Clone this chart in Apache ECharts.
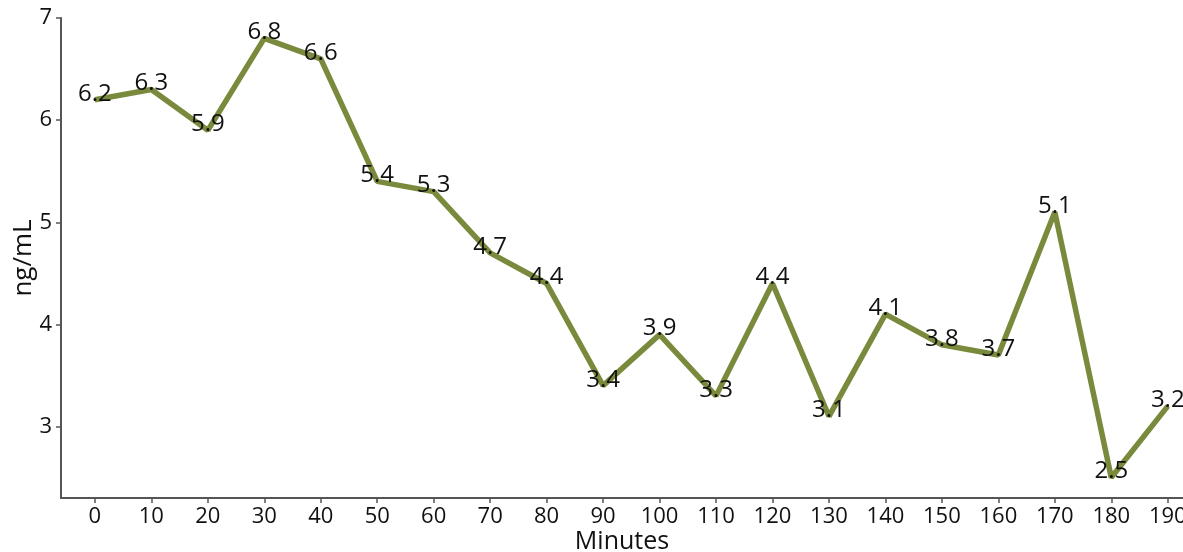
<!DOCTYPE html>
<html><head><meta charset="utf-8">
<script src="https://cdn.jsdelivr.net/npm/echarts@6/dist/echarts.min.js"></script>
<style>html,body{margin:0;padding:0;background:#fff}#c{width:1183px;height:552px}</style>
</head><body><div id="c"></div>
<script>
const minutes = [0,10,20,30,40,50,60,70,80,90,100,110,120,130,140,150,160,170,180,190];
const values = [6.2,6.3,5.9,6.8,6.6,5.4,5.3,4.7,4.4,3.4,3.9,3.3,4.4,3.1,4.1,3.8,3.7,5.1,2.5,3.2];
const yTicks = [3,4,5,6,7];
const xTicks = minutes;
const FONT = 'Open Sans';
const chart = echarts.init(document.getElementById('c'));
chart.setOption({
  animation:false,
  grid:{left:61,right:0,top:18,bottom:54,containLabel:false,outerBoundsMode:'none'},
  xAxis:{type:'value',min:-6,max:192.7,name:'Minutes',nameLocation:'middle',nameGap:31,nameMoveOverlap:false,
    nameTextStyle:{fontFamily:FONT,fontSize:25,color:'#111'},
    axisLine:{show:true,onZero:false,lineStyle:{color:'#555',width:2}},
    axisTick:{show:true,customValues:xTicks,length:5,lineStyle:{color:'#555',width:1.5}},
    axisLabel:{customValues:xTicks,fontFamily:FONT,fontSize:22,color:'#111',margin:8},
    splitLine:{show:false}},
  yAxis:{type:'value',min:2.3,max:7,name:'ng/mL',nameLocation:'middle',nameGap:24,nameMoveOverlap:false,
    nameTextStyle:{fontFamily:FONT,fontSize:26,color:'#111'},
    axisLine:{show:true,onZero:false,lineStyle:{color:'#555',width:2}},
    axisTick:{show:true,customValues:yTicks,length:5,lineStyle:{color:'#555',width:1.5}},
    axisLabel:{customValues:yTicks,fontFamily:FONT,fontSize:22,color:'#111',margin:9},
    splitLine:{show:false}},
  series:[{type:'line',data:minutes.map((m,i)=>[m,values[i]]),showSymbol:true,symbol:'circle',symbolSize:1,
    itemStyle:{color:'#111'},
    lineStyle:{color:'#7a8a3c',width:5.5},
    label:{show:true,position:'inside',offset:[0,-6],fontFamily:FONT,fontSize:24,color:'#111',
      formatter:p=>p.value[1].toFixed(1)}}]
});
</script></body></html>
